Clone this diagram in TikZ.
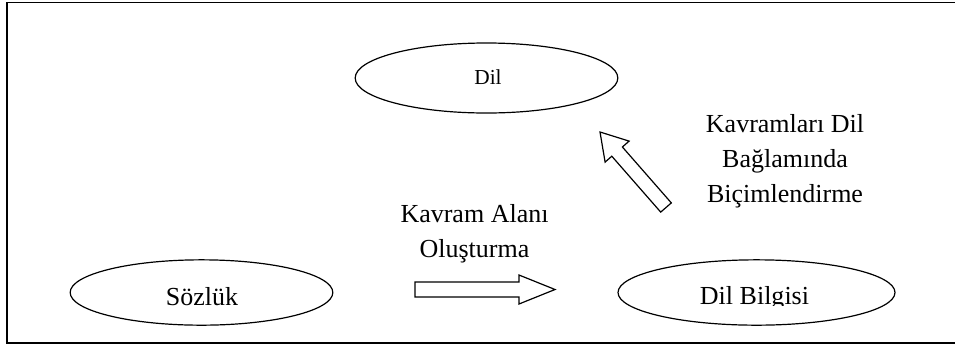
\documentclass[tikz,border=0pt]{standalone}
\usepackage{fontspec}
\setmainfont{Liberation Serif}
\usetikzlibrary{shapes.geometric}
\tikzset{
  oval/.style={ellipse, draw, line width=0.9pt, inner sep=0pt,
    minimum width=197pt, minimum height=49pt},
  blockarrow/.style={draw, line width=0.9pt, fill=white, line join=miter},
  word/.style={align=center, inner sep=0pt,
    font=\fontsize{19.5}{26.25}\selectfont},
}
\begin{document}
\begin{tikzpicture}[x=0.75pt, y=-0.75pt]
  \useasboundingbox (0,0) rectangle (955,347);
  \draw[line width=1.3pt] (960,2.5) -- (7,2.5) -- (7,343) -- (960,343);

  \node[oval, minimum height=52.5pt] (dil) at (486.5,78) {};
  \node[word, anchor=base, font=\fontsize{16}{19}\selectfont] (diltext) at (488,84) {Dil};

  \node[oval] (sozluk) at (201.5,292.5) {};
  \node[word, anchor=base] (sozluktext) at (202,305) {Sözlük};

  \node[oval, minimum width=207.75pt] (bilgisi) at (756.5,292.5) {};
  \begin{scope}
    \clip (680,250) rectangle (830,305.5);
    \node[word, anchor=base] (bilgisitext) at (754.5,304.5) {Dil Bilgisi};
  \end{scope}

  \draw[blockarrow] (415,282) -- (519,282) -- (519,275) -- (555,289.5)
    -- (519,304) -- (519,297) -- (415,297) -- cycle;
  \node[word, anchor=base] (alan) at (474.5,257) {Kavram Alanı\\Oluşturma};

  \draw[blockarrow] (600,132) -- (629.1,141.1) -- (622.4,147) -- (671.3,202.9)
    -- (660.7,212.1) -- (611.8,156.2) -- (605.1,162.1) -- cycle;
  \node[word, anchor=base] (bicim) at (785,202)
    {Kavramları Dil\\Bağlamında\\Biçimlendirme};
\end{tikzpicture}
\end{document}
